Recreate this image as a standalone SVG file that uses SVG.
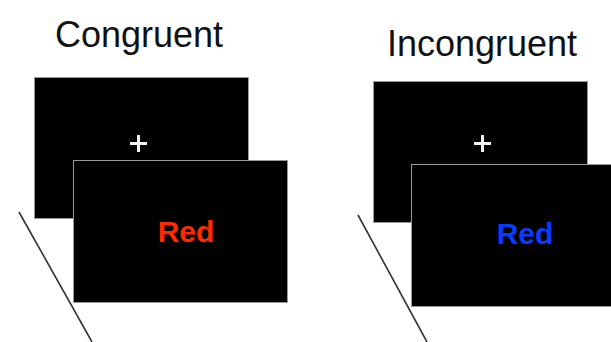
<svg xmlns="http://www.w3.org/2000/svg" width="611" height="342" viewBox="0 0 611 342">
  <style>
    .title { font-family: "Liberation Sans", Arial, sans-serif; font-size: 36px; fill: #111; text-anchor: middle; }
    .screen { fill: #000; stroke: #9a9a9a; stroke-width: 1; }
    .cross { stroke: #f2f2f2; stroke-width: 3; stroke-linecap: butt; }
    .word { font-family: "Liberation Sans", Arial, sans-serif; font-size: 30px; font-weight: bold; text-anchor: middle; }
    .time { stroke: #333; stroke-width: 1.6; fill: none; }
  </style>
  <rect width="611" height="342" fill="#fff"/>

  <!-- Congruent trial -->
  <g id="congruent">
    <text class="title" x="139" y="47">Congruent</text>
    <g id="congruent-fixation">
      <rect class="screen" x="34.5" y="77.5" width="214" height="141"/>
      <path class="cross" d="M130 143.5h17M138.5 135v17"/>
    </g>
    <g id="congruent-stimulus">
      <rect class="screen" x="73.5" y="160.5" width="214" height="142"/>
      <text class="word" x="186" y="242" fill="#ff2a00">Red</text>
    </g>
  </g>

  <!-- Incongruent trial -->
  <g id="incongruent">
    <text class="title" x="482" y="56">Incongruent</text>
    <g id="incongruent-fixation">
      <rect class="screen" x="373.5" y="81.5" width="214" height="141"/>
      <path class="cross" d="M474 143.5h17M482.5 135v17"/>
    </g>
    <g id="incongruent-stimulus">
      <rect class="screen" x="411.5" y="164.5" width="214" height="142"/>
      <text class="word" x="525" y="244" fill="#0a3cff">Red</text>
    </g>
  </g>

  <!-- time axes -->
  <g id="connectors">
    <line class="time" x1="19" y1="212" x2="92" y2="342"/>
    <line class="time" x1="358" y1="215" x2="427" y2="342"/>
  </g>
</svg>
